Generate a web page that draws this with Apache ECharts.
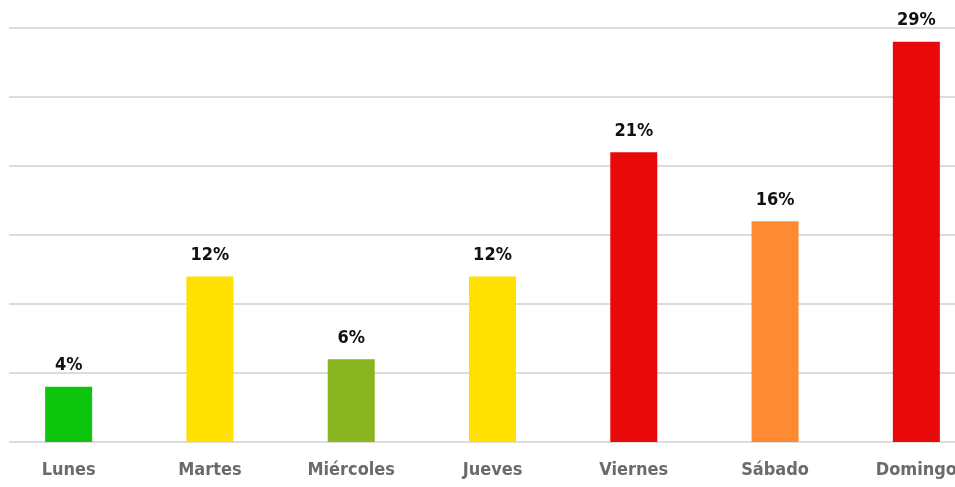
<!DOCTYPE html>
<html><head><meta charset="utf-8">
<script src="https://cdn.jsdelivr.net/npm/echarts@6/dist/echarts.min.js"></script>
<style>html,body{margin:0;padding:0;background:#fff}#c{width:955px;height:487px}</style>
</head><body><div id="c"></div>
<script>
const categories = ['Lunes','Martes','Miércoles','Jueves','Viernes','Sábado','Domingo'];
const values = [4, 12, 6, 12, 21, 16, 29];
const colors = ['#0cc50c','#ffe000','#88b520','#ffe000','#e80a0a','#ff8a33','#e80a0a'];
const font = '"Liberation Sans Narrow","DejaVu Sans Condensed","DejaVu Sans",sans-serif';
const chart = echarts.init(document.getElementById('c'));
chart.setOption({
  animation:false,
  grid:[
    {left:9, right:0, top:28, height:414, outerBoundsMode:'none'},
    {left:-2, right:-32, top:28, height:414, outerBoundsMode:'none'}
  ],
  xAxis:[
    {gridIndex:0, type:'category', data:[], show:false},
    {gridIndex:1, type:'category', data:categories,
     axisLine:{show:false}, axisTick:{show:false},
     axisLabel:{color:'#6b6b6b', fontFamily:font, fontWeight:'bold condensed', fontSize:18, margin:19}}
  ],
  yAxis:[
    {gridIndex:0, type:'value', min:0, max:30, interval:5,
     axisLabel:{show:false}, axisLine:{show:false}, axisTick:{show:false},
     splitLine:{lineStyle:{color:'#dcdcdc', width:2}}},
    {gridIndex:1, type:'value', min:0, max:30, interval:5, show:false,
     splitLine:{show:false}}
  ],
  series:[{
    type:'bar', xAxisIndex:1, yAxisIndex:1, barWidth:47,
    data: values.map((v,i)=>({value:v, itemStyle:{color:colors[i]}})),
    label:{show:true, position:'top', distance:12, formatter:'{c}%',
      color:'#111', fontFamily:font, fontWeight:'bold condensed', fontSize:18}
  }]
});
</script></body></html>
